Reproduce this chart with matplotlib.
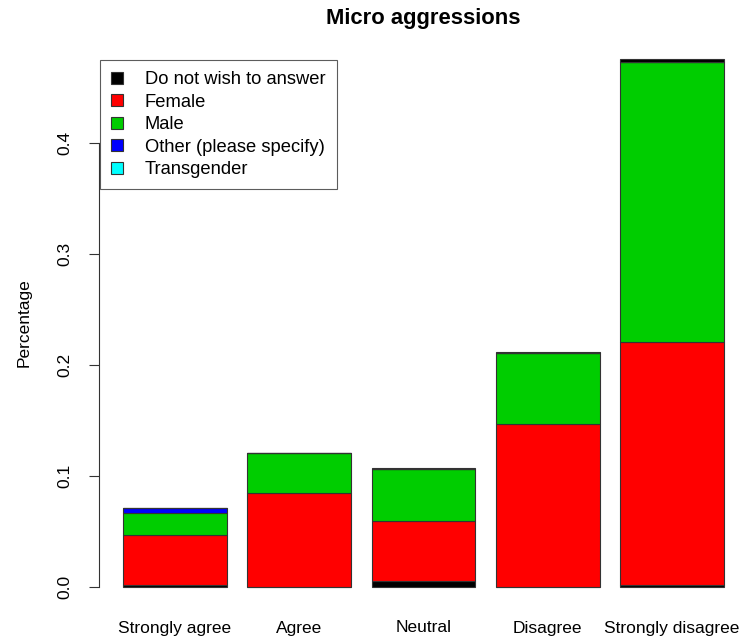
import matplotlib
matplotlib.use("Agg")
import matplotlib.pyplot as plt
import numpy as np
from matplotlib.patches import Patch

plt.rcParams['font.family'] = ['Liberation Sans', 'DejaVu Sans']

categories = ["Strongly agree", "Agree", "Neutral", "Disagree", "Strongly disagree"]
do_not_wish = [0.002, 0.0, 0.005, 0.0, 0.002]
female = [0.045, 0.085, 0.054, 0.147, 0.219]
male = [0.020, 0.036, 0.047, 0.064, 0.252]
other = [0.004, 0.0, 0.0, 0.0, 0.0]
transgender = [0.0, 0.0, 0.0, 0.0, 0.0]
unlisted = [0.0, 0.0, 0.0012, 0.0012, 0.003]

series = [do_not_wish, female, male, other, transgender, unlisted]
colors = ["black", "#FF0000", "#00CD00", "#0000FF", "#00FFFF", "black"]
legend_labels = ["Do not wish to answer", "Female", "Male", "Other (please specify)", "Transgender"]

fig = plt.figure(figsize=(7.5, 6.39), dpi=100)
ax = fig.add_axes([99/750, 31/639, 649/750, 570/639])

x = 0.7 + 1.2 * np.arange(len(categories))
bottom = np.zeros(len(categories))
for vals, c in zip(series, colors):
    vals = np.array(vals)
    ax.bar(x, vals, width=1.0, bottom=bottom, color=c, edgecolor="#333333", linewidth=0.8)
    bottom += vals

ax.set_xlim(-0.032, 6.232)
top = bottom.max()
ax.set_ylim(-0.04 * top, top * 1.04)

for s in ["top", "right", "bottom"]:
    ax.spines[s].set_visible(False)
ax.spines["left"].set_bounds(0, 0.4)
ax.spines["left"].set_color("#333333")
ax.set_yticks([0.0, 0.1, 0.2, 0.3, 0.4])
ax.set_yticklabels(["0.0", "0.1", "0.2", "0.3", "0.4"], rotation=90, va="center")
ax.tick_params(axis="y", length=7, labelsize=12.5, color="#333333", pad=12)
ax.set_xticks(x)
ax.set_xticklabels(categories)
ax.tick_params(axis="x", length=0, labelsize=12.5, pad=9)
ax.set_ylabel("Percentage", fontsize=12.5, labelpad=19)
ax.set_title("Micro aggressions", fontsize=15.8, fontweight="bold", pad=10)

handles = [Patch(facecolor=c, edgecolor="#333333", linewidth=0.8) for c in colors[:5]]
leg = ax.legend(handles, legend_labels, loc="upper left", bbox_to_anchor=(0.0015, 0.961),
                fontsize=13.2, frameon=True, fancybox=False, edgecolor="#333333",
                handlelength=0.65, handleheight=0.65, handletextpad=1.2, labelspacing=0.3,
                borderpad=0.6, borderaxespad=0)
leg.get_frame().set_linewidth(0.8)

fig.savefig("out.png", dpi=100)
